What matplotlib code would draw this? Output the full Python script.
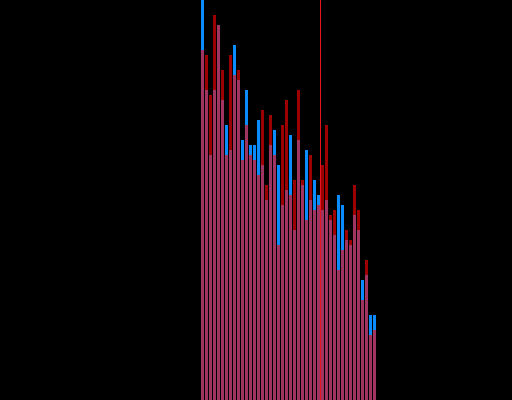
import matplotlib
matplotlib.use("Agg")
import matplotlib.pyplot as plt
import numpy as np

# bar index (bins)
bins = list(range(44))
blue_vals = [410, 310, 245, 310, 375, 300, 275, 250, 355, 320, 260,
             310, 255, 255, 280, 235, 200, 255, 270, 235, 195, 210,
             265, 170, 260, 215, 250, 200, 220, 205, 190, 200, 180,
             165, 205, 195, 160, 155, 185, 170, 120, 125, 85, 85]
red_vals = [350, 345, 305, 385, 375, 330, 245, 345, 325, 330, 240,
            275, 245, 240, 225, 290, 215, 285, 245, 155, 275, 300,
            205, 220, 310, 220, 180, 245, 190, 195, 235, 275, 185,
            190, 130, 150, 170, 160, 215, 190, 100, 140, 65, 70]
threshold = 29.5

fig = plt.figure(figsize=(5.12, 4.0), dpi=100, facecolor="black")
ax = fig.add_axes([0, 0, 1, 1])
ax.set_facecolor("black")
x = np.array(bins)
ax.bar(x, blue_vals, width=0.75, color="#0a8cff", linewidth=0)
ax.bar(x, red_vals, width=0.75, color="#ff0000", alpha=0.62, linewidth=0)
ax.axvline(threshold, color="#e8141e", linewidth=0.72, antialiased=False, snap=False)
ax.set_xlim(-50.625, 77.375)
ax.set_ylim(0, 400)
ax.axis("off")
fig.savefig("out.png", dpi=100, facecolor="black")
